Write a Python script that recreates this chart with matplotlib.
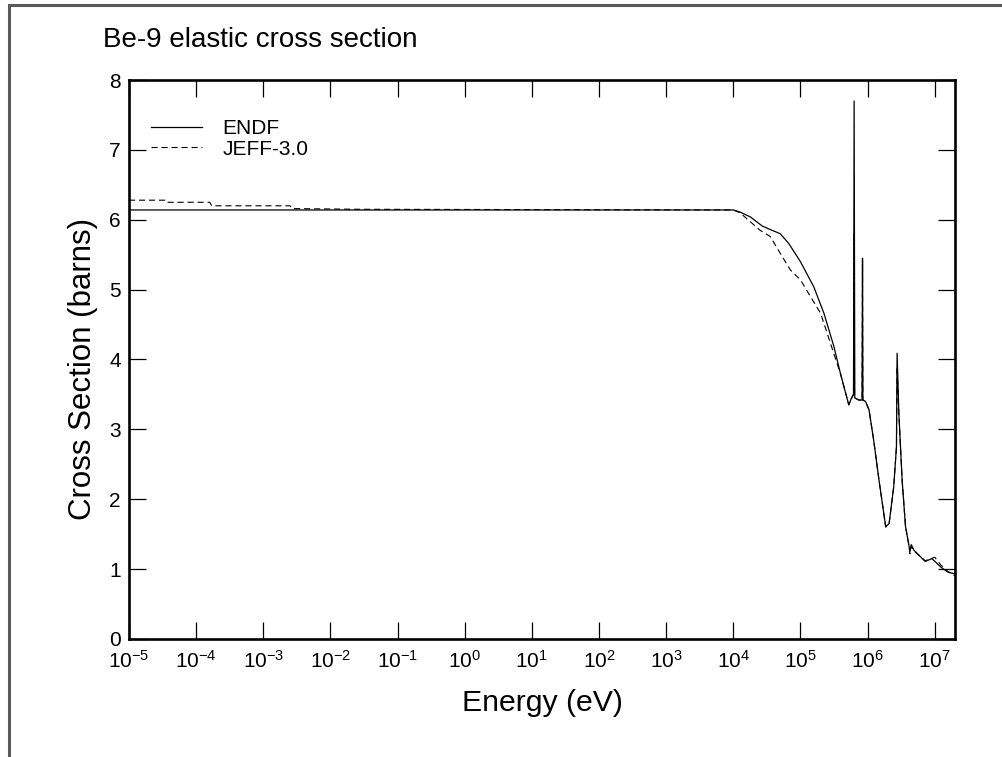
import matplotlib.pyplot as plt
from matplotlib.patches import Rectangle

plt.rcParams["font.family"] = ["Liberation Sans", "DejaVu Sans"]
plt.rcParams["mathtext.fontset"] = "custom"
plt.rcParams["mathtext.rm"] = "Liberation Sans"
plt.rcParams["mathtext.it"] = "Liberation Sans"

# elastic cross section, energy in eV, sigma in barns
endf_e = [1e-5, 1e4, 1.26e4, 1.8e4, 2.7e4, 3.55e4, 5.0e4, 6.7e4, 1.0e5, 1.58e5,
          2.24e5, 3.16e5, 3.94e5, 4.47e5, 5.25e5, 5.75e5, 6.17e5, 6.30e5, 6.45e5,
          7.4e5, 8.28e5, 8.4e5, 8.5e5, 9.3e5, 1.05e6, 1.23e6, 1.48e6, 1.86e6,
          2.09e6, 2.45e6, 2.69e6, 2.75e6, 2.92e6, 3.27e6, 3.67e6, 4.07e6, 4.27e6,
          4.47e6, 4.9e6, 7.2e6, 9.1e6, 1.23e7, 1.55e7, 2.0e7]
endf_xs = [6.14, 6.14, 6.11, 6.04, 5.91, 5.86, 5.80, 5.66, 5.40, 5.04,
           4.66, 4.18, 3.80, 3.60, 3.35, 3.45, 3.50, 7.70, 3.45,
           3.42, 3.42, 5.45, 3.42, 3.40, 3.28, 2.85, 2.27, 1.61,
           1.65, 2.18, 2.75, 4.09, 3.23, 2.27, 1.61, 1.37, 1.25,
           1.35, 1.27, 1.11, 1.15, 1.03, 0.96, 0.93]

jeff_e = [1e-5, 3.4e-5, 3.5e-5, 1.6e-4, 1.7e-4, 2.5e-3, 2.7e-3, 2.8e-2, 1e4,
          1.26e4, 2.5e4, 3.55e4, 5.0e4, 7.1e4, 1.0e5, 1.41e5, 2.0e5, 2.8e5,
          3.94e5, 5.25e5, 6.17e5, 6.28e5, 6.4e5, 7.4e5, 8.28e5, 8.4e5, 8.5e5,
          9.3e5, 1.05e6, 1.23e6, 1.48e6, 1.86e6, 2.09e6, 2.45e6, 2.69e6, 2.75e6,
          2.92e6, 3.27e6, 3.67e6, 4.07e6, 4.27e6, 4.47e6, 4.9e6, 7.2e6, 1.0e7,
          1.23e7, 1.55e7, 2.0e7]
jeff_xs = [6.28, 6.28, 6.25, 6.25, 6.20, 6.20, 6.16, 6.15, 6.14,
           6.10, 5.85, 5.76, 5.52, 5.28, 5.14, 4.90, 4.66, 4.23,
           3.80, 3.35, 3.50, 5.80, 3.45, 3.42, 3.42, 5.40, 3.42,
           3.40, 3.28, 2.85, 2.27, 1.60, 1.65, 2.18, 2.75, 3.90,
           3.23, 2.27, 1.61, 1.37, 1.22, 1.33, 1.26, 1.12, 1.17,
           1.06, 0.97, 0.90]

fig = plt.figure(figsize=(10.03, 7.57), dpi=100)
ax = fig.add_axes([0.1286, 0.1559, 0.8235, 0.7384])

ax.plot(endf_e, endf_xs, color="black", lw=0.9, label="ENDF")
ax.plot(jeff_e, jeff_xs, color="black", lw=0.8, linestyle=(0, (5.5, 3.5)),
        label="JEFF-3.0")

ax.set_xscale("log")
ax.set_xlim(1e-5, 2e7)
ax.set_ylim(0, 8)
ax.set_xticks([10.0 ** k for k in range(-5, 8)])
ax.minorticks_off()
ax.set_yticks(range(0, 9))

for s in ax.spines.values():
    s.set_linewidth(1.9)
ax.tick_params(direction="in", length=12, width=0.9, top=True, right=True,
               labelsize=15, pad=6)
ax.tick_params(axis="x", pad=8)

ax.set_xlabel("Energy (eV)", fontsize=21.8, labelpad=12)
ax.set_ylabel("Cross Section (barns)", fontsize=22.5)
ax.yaxis.set_label_coords(-0.037, 0.483)

ax.legend(loc="upper left", bbox_to_anchor=(0.007, 0.96), frameon=False,
          fontsize=15, handlelength=2.45, handletextpad=0.95, labelspacing=0.08,
          borderaxespad=0.4)

fig.text(0.1027, 0.947, "Be-9 elastic cross section", fontsize=20,
         ha="left", va="center")

# grey page frame, open on the right and bottom
fig.patches.append(Rectangle((0.0085, -0.1), 1.2, 1.093, transform=fig.transFigure,
                             fill=False, edgecolor="#5a5a5a", lw=2.2))

fig.savefig("out.png", dpi=100)
